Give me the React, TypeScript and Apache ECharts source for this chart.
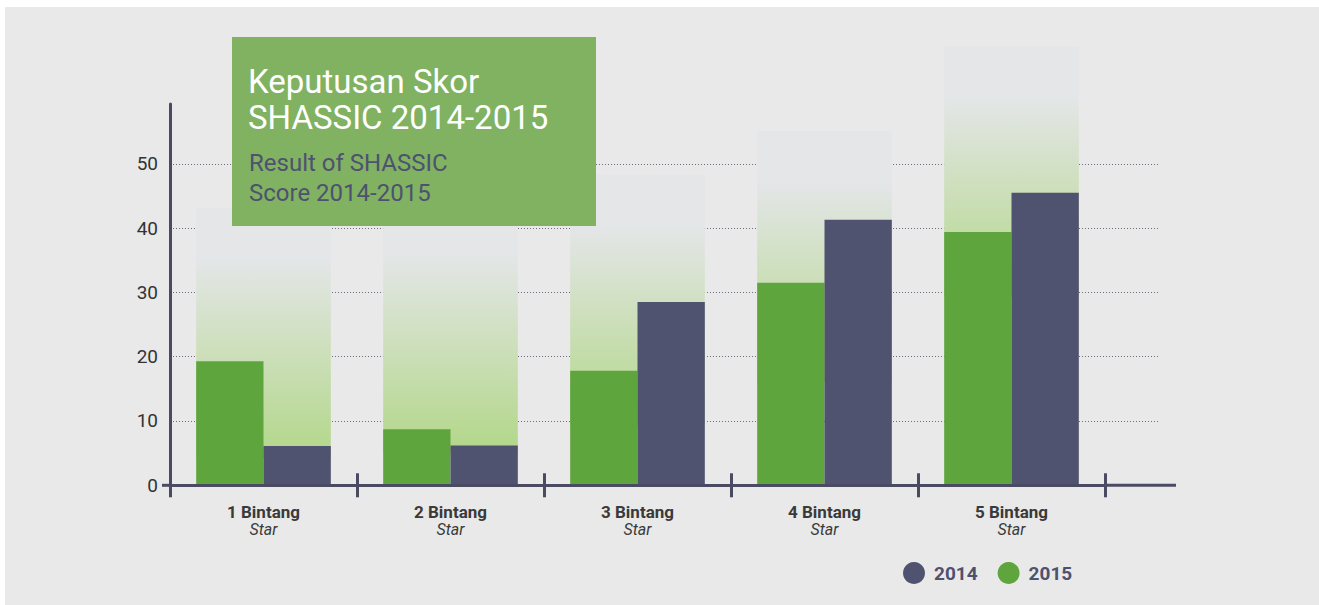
import React, { useEffect, useRef } from "react";
import * as echarts from "echarts";

const categories = ["1 Bintang", "2 Bintang", "3 Bintang", "4 Bintang", "5 Bintang"];
const subLabel = "Star";
const values2015 = [19.3, 8.7, 17.8, 31.5, 39.4];
const values2014 = [6.1, 6.2, 28.5, 41.3, 45.5];
const backdropTop = [43.1, 44.0, 48.3, 55.1, 68.3];
const backdropBase = [4.2, 5.0, 9.3, 16.1, 29.3];
const yMin = 0;
const yMax = 59.3;
const yInterval = 10;

const GREEN = "#5fa53d";
const DARK = "#505370";
const AXIS = "#4a4a63";
const FONT = "Roboto, 'Noto Sans', sans-serif";

export default function App() {
  const ref = useRef<HTMLDivElement>(null);
  useEffect(() => {
    if (!ref.current) return;
    const chart = echarts.init(ref.current, undefined, { renderer: "svg" });
    const backdropHeights = backdropTop.map((t, i) => +(t - backdropBase[i]).toFixed(1));
    const grad = new echarts.graphic.LinearGradient(0, 0, 0, 1, [
      { offset: 0, color: "#e4e6e8" },
      { offset: 0.2, color: "#e4e6e8" },
      { offset: 1, color: "#b2d788" },
    ]);
    chart.setOption({
      animation: false,
      backgroundColor: "#ffffff",
      textStyle: { fontFamily: FONT },
      grid: [
        { left: 170, right: 1319 - 1105, top: 104, bottom: 605 - 485.3 },
        { left: 170, right: 1319 - 1160, top: 104, bottom: 605 - 485.3 },
      ],
      legend: {
        data: ["2014", "2015"],
        left: 898,
        top: 557,
        icon: "circle",
        itemWidth: 22,
        itemHeight: 22,
        itemGap: 20,
        textStyle: { color: "#4e5170", fontSize: 19, fontWeight: "bold", fontFamily: FONT, padding: [0, 0, 0, 4] },
      },
      xAxis: [
        {
          type: "category",
          gridIndex: 0,
          data: categories,
          boundaryGap: true,
          axisLine: { show: true, lineStyle: { color: AXIS, width: 3 } },
          axisTick: { show: true, length: 12, lineStyle: { color: AXIS, width: 3 } },
          axisLabel: {
            margin: 18,
            formatter: (v: string) => `{a|${v}}\n{b|${subLabel}}`,
            rich: {
              a: { fontSize: 17, fontWeight: "bold", color: "#3a3a3a", lineHeight: 18, fontFamily: FONT },
              b: { fontSize: 16, fontStyle: "italic", color: "#3a3a3a", lineHeight: 17, fontFamily: FONT },
            },
          },
          z: 5,
        },
        {
          type: "category",
          gridIndex: 0,
          data: categories,
          boundaryGap: true,
          position: "bottom",
          axisLine: { show: false },
          axisTick: { show: true, inside: true, length: 12, lineStyle: { color: AXIS, width: 3 } },
          axisLabel: { show: false },
          z: 5,
        },
        { type: "value", gridIndex: 1, show: false, min: 0, max: 1 },
      ],
      yAxis: [
        {
          type: "value",
          gridIndex: 0,
          min: yMin,
          max: yMax,
          interval: yInterval,
          axisLine: { show: true, lineStyle: { color: AXIS, width: 3 } },
          axisTick: { show: false },
          axisLabel: { show: false },
          splitLine: { show: false },
          z: 5,
        },
        {
          type: "value",
          gridIndex: 1,
          min: yMin,
          max: yMax,
          interval: yInterval,
          axisLine: { show: false },
          axisTick: { show: false },
          axisLabel: { color: "#333333", fontSize: 19, margin: 12, showMaxLabel: false, fontFamily: FONT },
          splitLine: {
            show: true,
            showMinLine: false,
            showMaxLine: false,
            lineStyle: { color: "#6e6e80", width: 1, type: [1, 2] },
          },
        },
      ],
      series: [
        {
          name: "base",
          type: "bar",
          xAxisIndex: 1,
          yAxisIndex: 0,
          stack: "bg",
          barCategoryGap: "28%",
          data: backdropBase,
          itemStyle: { color: "rgba(0,0,0,0)" },
          silent: true,
          z: 1,
        },
        {
          name: "backdrop",
          type: "bar",
          xAxisIndex: 1,
          yAxisIndex: 0,
          stack: "bg",
          barCategoryGap: "28%",
          data: backdropHeights,
          itemStyle: { color: grad },
          clip: false,
          silent: true,
          z: 1,
        },
        {
          name: "2015",
          type: "bar",
          xAxisIndex: 0,
          yAxisIndex: 0,
          barGap: "0%",
          barCategoryGap: "28%",
          data: values2015,
          itemStyle: { color: GREEN },
          z: 3,
        },
        {
          name: "2014",
          type: "bar",
          xAxisIndex: 0,
          yAxisIndex: 0,
          barGap: "0%",
          barCategoryGap: "28%",
          data: values2014,
          itemStyle: { color: DARK },
          z: 3,
        },
      ],
      graphic: {
        elements: [
          {
            type: "rect",
            shape: { x: 5, y: 7, width: 1314, height: 598 },
            style: { fill: "#e9e9e9" },
            z: -100,
            silent: true,
          },
          {
            type: "line",
            shape: { x1: 162, y1: 485.3, x2: 170, y2: 485.3 },
            style: { stroke: AXIS, lineWidth: 3 },
            z: 50,
          },
          {
            type: "line",
            shape: { x1: 1105, y1: 485.3, x2: 1176, y2: 485.3 },
            style: { stroke: AXIS, lineWidth: 3 },
            z: 50,
          },
          {
            type: "rect",
            shape: { x: 232, y: 37, width: 364, height: 189 },
            style: { fill: "#80b262" },
            z: 100,
          },
          {
            type: "text",
            x: 248,
            y: 63,
            style: {
              text: "Keputusan Skor\nSHASSIC 2014-2015",
              fill: "#ffffff",
              fontSize: 33,
              fontWeight: "normal",
              fontFamily: FONT,
              lineHeight: 36,
              textVerticalAlign: "top",
            },
            z: 101,
          },
          {
            type: "text",
            x: 249,
            y: 148,
            style: {
              text: "Result of SHASSIC\nScore 2014-2015",
              fill: "#4e5170",
              fontSize: 24,
              fontFamily: FONT,
              lineHeight: 30,
              textVerticalAlign: "top",
            },
            z: 101,
          },
        ],
      },
    });
    return () => chart.dispose();
  }, []);
  return (
    <div
      ref={ref}
      style={{ position: "absolute", left: 0, top: 0, width: 1319, height: 605 }}
    />
  );
}
